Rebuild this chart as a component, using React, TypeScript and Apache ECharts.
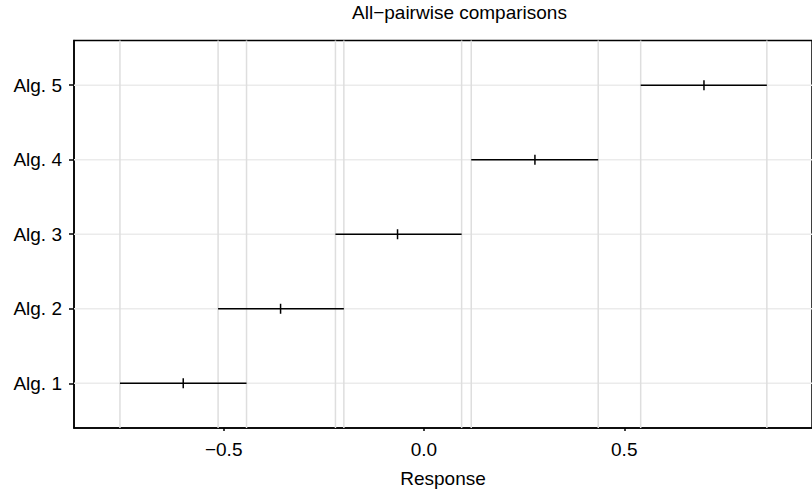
import React, { useEffect, useRef } from "react";
import * as echarts from "echarts";

const categories = ["Alg. 1", "Alg. 2", "Alg. 3", "Alg. 4", "Alg. 5"];
const estimates = [-0.601, -0.358, -0.066, 0.277, 0.699];
const lowerBounds = [-0.759, -0.514, -0.221, 0.118, 0.541];
const upperBounds = [-0.443, -0.2, 0.094, 0.435, 0.856];
const xTickValues = [-0.5, 0, 0.5];
const yTickValues = [1, 2, 3, 4, 5];
const titleText = "All\u2212pairwise comparisons";
const xAxisName = "Response";

const FONT = "'Liberation Sans', Arial, Helvetica, sans-serif";

function fmtX(v: number): string {
  const s = Math.abs(v).toFixed(1);
  return v < 0 ? "\u2212" + s : s;
}

export default function App() {
  const ref = useRef<HTMLDivElement>(null);
  useEffect(() => {
    if (!ref.current) return;
    const chart = echarts.init(ref.current, null, { renderer: "svg" });
    const intervalData = categories.map((_, i) => [
      yTickValues[i],
      lowerBounds[i],
      estimates[i],
      upperBounds[i],
    ]);
    const vGridData = [...lowerBounds, ...upperBounds].map((v) => [v, 1]);
    const hGridData = yTickValues.map((v) => [0, v]);

    chart.setOption({
      animation: false,
      backgroundColor: "#ffffff",
      graphic: [
        {
          type: "text",
          x: 459.5,
          y: 3,
          style: {
            text: titleText,
            font: `19px ${FONT}`,
            fill: "#000",
            textAlign: "center",
            textVerticalAlign: "top",
          },
        },
      ],
      grid: {
        left: 74,
        top: 40.5,
        width: 748,
        height: 387.5,
        show: true,
        borderColor: "#000",
        borderWidth: 1.5,
        backgroundColor: "transparent",
      },
      xAxis: {
        type: "value",
        min: -0.8737,
        max: 0.9687,
        name: xAxisName,
        nameLocation: "middle",
        nameGap: 41,
        nameTextStyle: { fontFamily: FONT, fontSize: 19, color: "#000", verticalAlign: "top" },
        axisLine: { show: true, onZero: false, lineStyle: { color: "#000", width: 1.5 } },
        axisTick: {
          show: true,
          length: 3,
          customValues: xTickValues,
          lineStyle: { color: "#000", width: 1.5 },
        },
        axisLabel: {
          customValues: xTickValues,
          formatter: (v: number) => fmtX(v),
          fontFamily: FONT,
          fontSize: 19,
          color: "#000",
          margin: 12,
        },
        splitLine: { show: false },
      },
      yAxis: {
        type: "value",
        min: 0.4,
        max: 5.6,
        axisLine: { show: true, onZero: false, lineStyle: { color: "#000", width: 1.5 } },
        axisTick: {
          show: true,
          length: 5,
          customValues: yTickValues,
          lineStyle: { color: "#000", width: 1.5 },
        },
        axisLabel: {
          customValues: yTickValues,
          formatter: (v: number) => categories[Math.round(v) - 1] ?? "",
          fontFamily: FONT,
          fontSize: 19,
          color: "#000",
          margin: 12,
        },
        splitLine: { show: false },
      },
      series: [
        {
          type: "custom",
          z: 1,
          silent: true,
          data: hGridData,
          encode: { x: 0, y: 1 },
          renderItem: (params: any, api: any) => {
            const cs = params.coordSys;
            const p = api.coord([0, api.value(1)]);
            return {
              type: "line",
              shape: { x1: cs.x, y1: p[1], x2: cs.x + cs.width, y2: p[1] },
              style: { stroke: "#ebebeb", lineWidth: 1.5 },
            };
          },
        },
        {
          type: "custom",
          z: 2,
          silent: true,
          data: vGridData,
          encode: { x: 0, y: 1 },
          renderItem: (params: any, api: any) => {
            const cs = params.coordSys;
            const p = api.coord([api.value(0), 1]);
            return {
              type: "line",
              shape: { x1: p[0], y1: cs.y, x2: p[0], y2: cs.y + cs.height },
              style: { stroke: "#dedede", lineWidth: 1.5 },
            };
          },
        },
        {
          type: "custom",
          z: 3,
          silent: true,
          data: intervalData,
          encode: { x: [1, 2, 3], y: 0 },
          renderItem: (params: any, api: any) => {
            const y = api.value(0);
            const lo = api.coord([api.value(1), y]);
            const c = api.coord([api.value(2), y]);
            const hi = api.coord([api.value(3), y]);
            return {
              type: "group",
              children: [
                {
                  type: "line",
                  shape: { x1: lo[0], y1: lo[1], x2: hi[0], y2: hi[1] },
                  style: { stroke: "#000", lineWidth: 1.5 },
                },
                {
                  type: "line",
                  shape: { x1: c[0], y1: c[1] - 5, x2: c[0], y2: c[1] + 5 },
                  style: { stroke: "#000", lineWidth: 1.5 },
                },
              ],
            };
          },
        },
      ],
    });
    return () => chart.dispose();
  }, []);
  return (
    <div
      ref={ref}
      style={{ position: "absolute", left: 0, top: 0, width: 812, height: 495 }}
    />
  );
}
